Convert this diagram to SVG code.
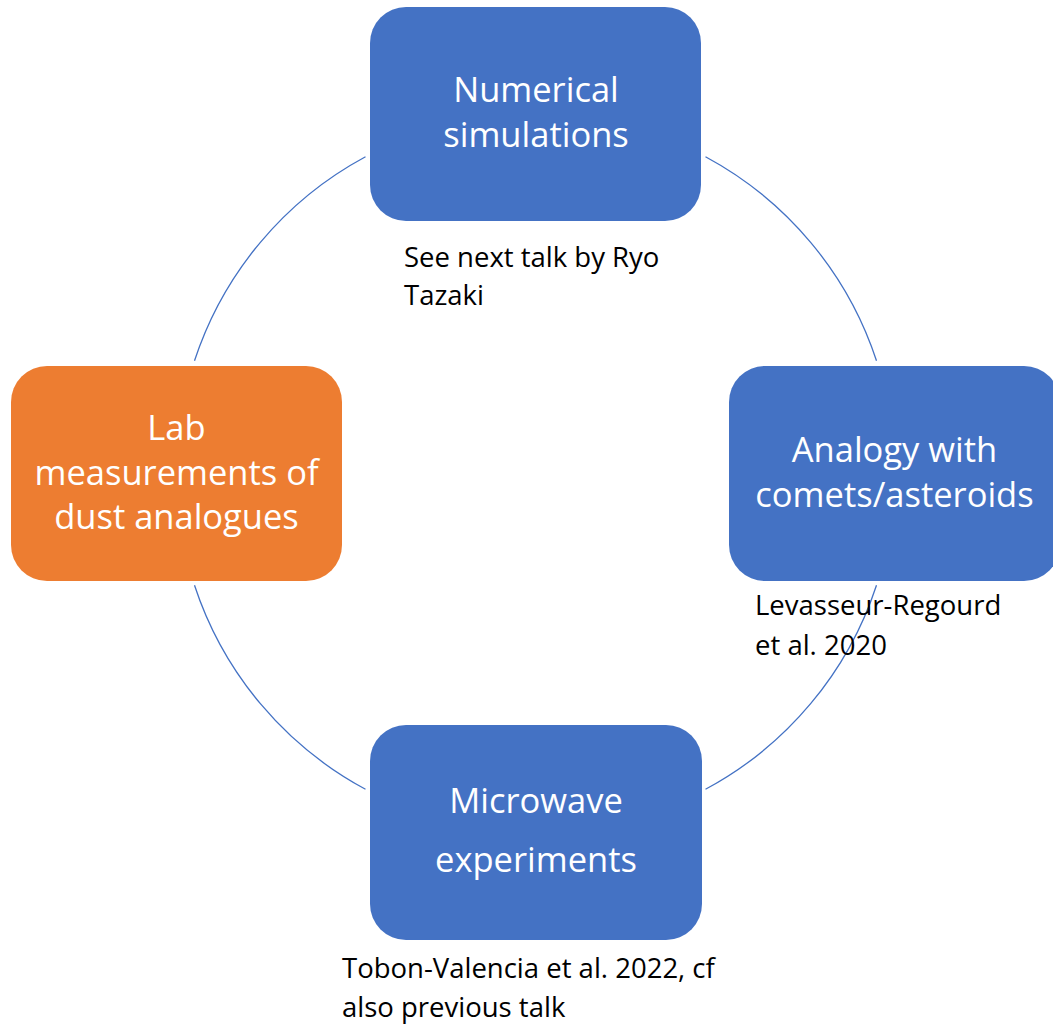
<svg xmlns="http://www.w3.org/2000/svg" width="1053" height="1025" viewBox="0 0 1053 1025">
  <style>
    .box-blue { fill: #4472C4; }
    .box-orange { fill: #ED7D31; }
    .arc { fill: none; stroke: #4472C4; stroke-width: 1.3; }
    .label { font-family: "Open Sans", "Liberation Sans", sans-serif; font-size: 34.5px; fill: #FFFFFF; text-anchor: middle; }
    .caption { font-family: "Open Sans", "Liberation Sans", sans-serif; font-size: 27.5px; fill: #000000; }
  </style>
  <rect width="1053" height="1025" fill="#FFFFFF"/>
  <g id="connectors">
    <path class="arc" d="M 705.5 156.7 A 359 359 0 0 1 876.5 360.8"/>
    <path class="arc" d="M 876.5 585.2 A 359 359 0 0 1 705.5 789.3"/>
    <path class="arc" d="M 365.5 789.3 A 359 359 0 0 1 194.5 585.2"/>
    <path class="arc" d="M 194.5 360.8 A 359 359 0 0 1 365.5 156.7"/>
  </g>
  <g id="node-numerical">
    <rect class="box-blue" x="370" y="7" width="331" height="214" rx="36" ry="36"/>
    <text class="label" x="536" y="102">Numerical</text>
    <text class="label" x="536" y="147">simulations</text>
  </g>
  <g id="node-analogy">
    <rect class="box-blue" x="729" y="366" width="331" height="215" rx="36" ry="36"/>
    <text class="label" x="894.5" y="462">Analogy with</text>
    <text class="label" x="894.5" y="507">comets/asteroids</text>
  </g>
  <g id="node-lab">
    <rect class="box-orange" x="11" y="366" width="331" height="215" rx="36" ry="36"/>
    <text class="label" x="176.5" y="439.5">Lab</text>
    <text class="label" x="176.5" y="484.5">measurements of</text>
    <text class="label" x="176.5" y="528.5">dust analogues</text>
  </g>
  <g id="node-microwave">
    <rect class="box-blue" x="370" y="725" width="332" height="215" rx="36" ry="36"/>
    <text class="label" x="536" y="813">Microwave</text>
    <text class="label" x="536" y="872">experiments</text>
  </g>
  <g id="caption-numerical">
    <text class="caption" x="404" y="267">See next talk by Ryo</text>
    <text class="caption" x="404" y="305">Tazaki</text>
  </g>
  <g id="caption-analogy">
    <text class="caption" x="755" y="615">Levasseur-Regourd</text>
    <text class="caption" x="755" y="655">et al. 2020</text>
  </g>
  <g id="caption-microwave">
    <text class="caption" x="342" y="978">Tobon-Valencia et al. 2022, cf</text>
    <text class="caption" x="342" y="1017">also previous talk</text>
  </g>
</svg>
